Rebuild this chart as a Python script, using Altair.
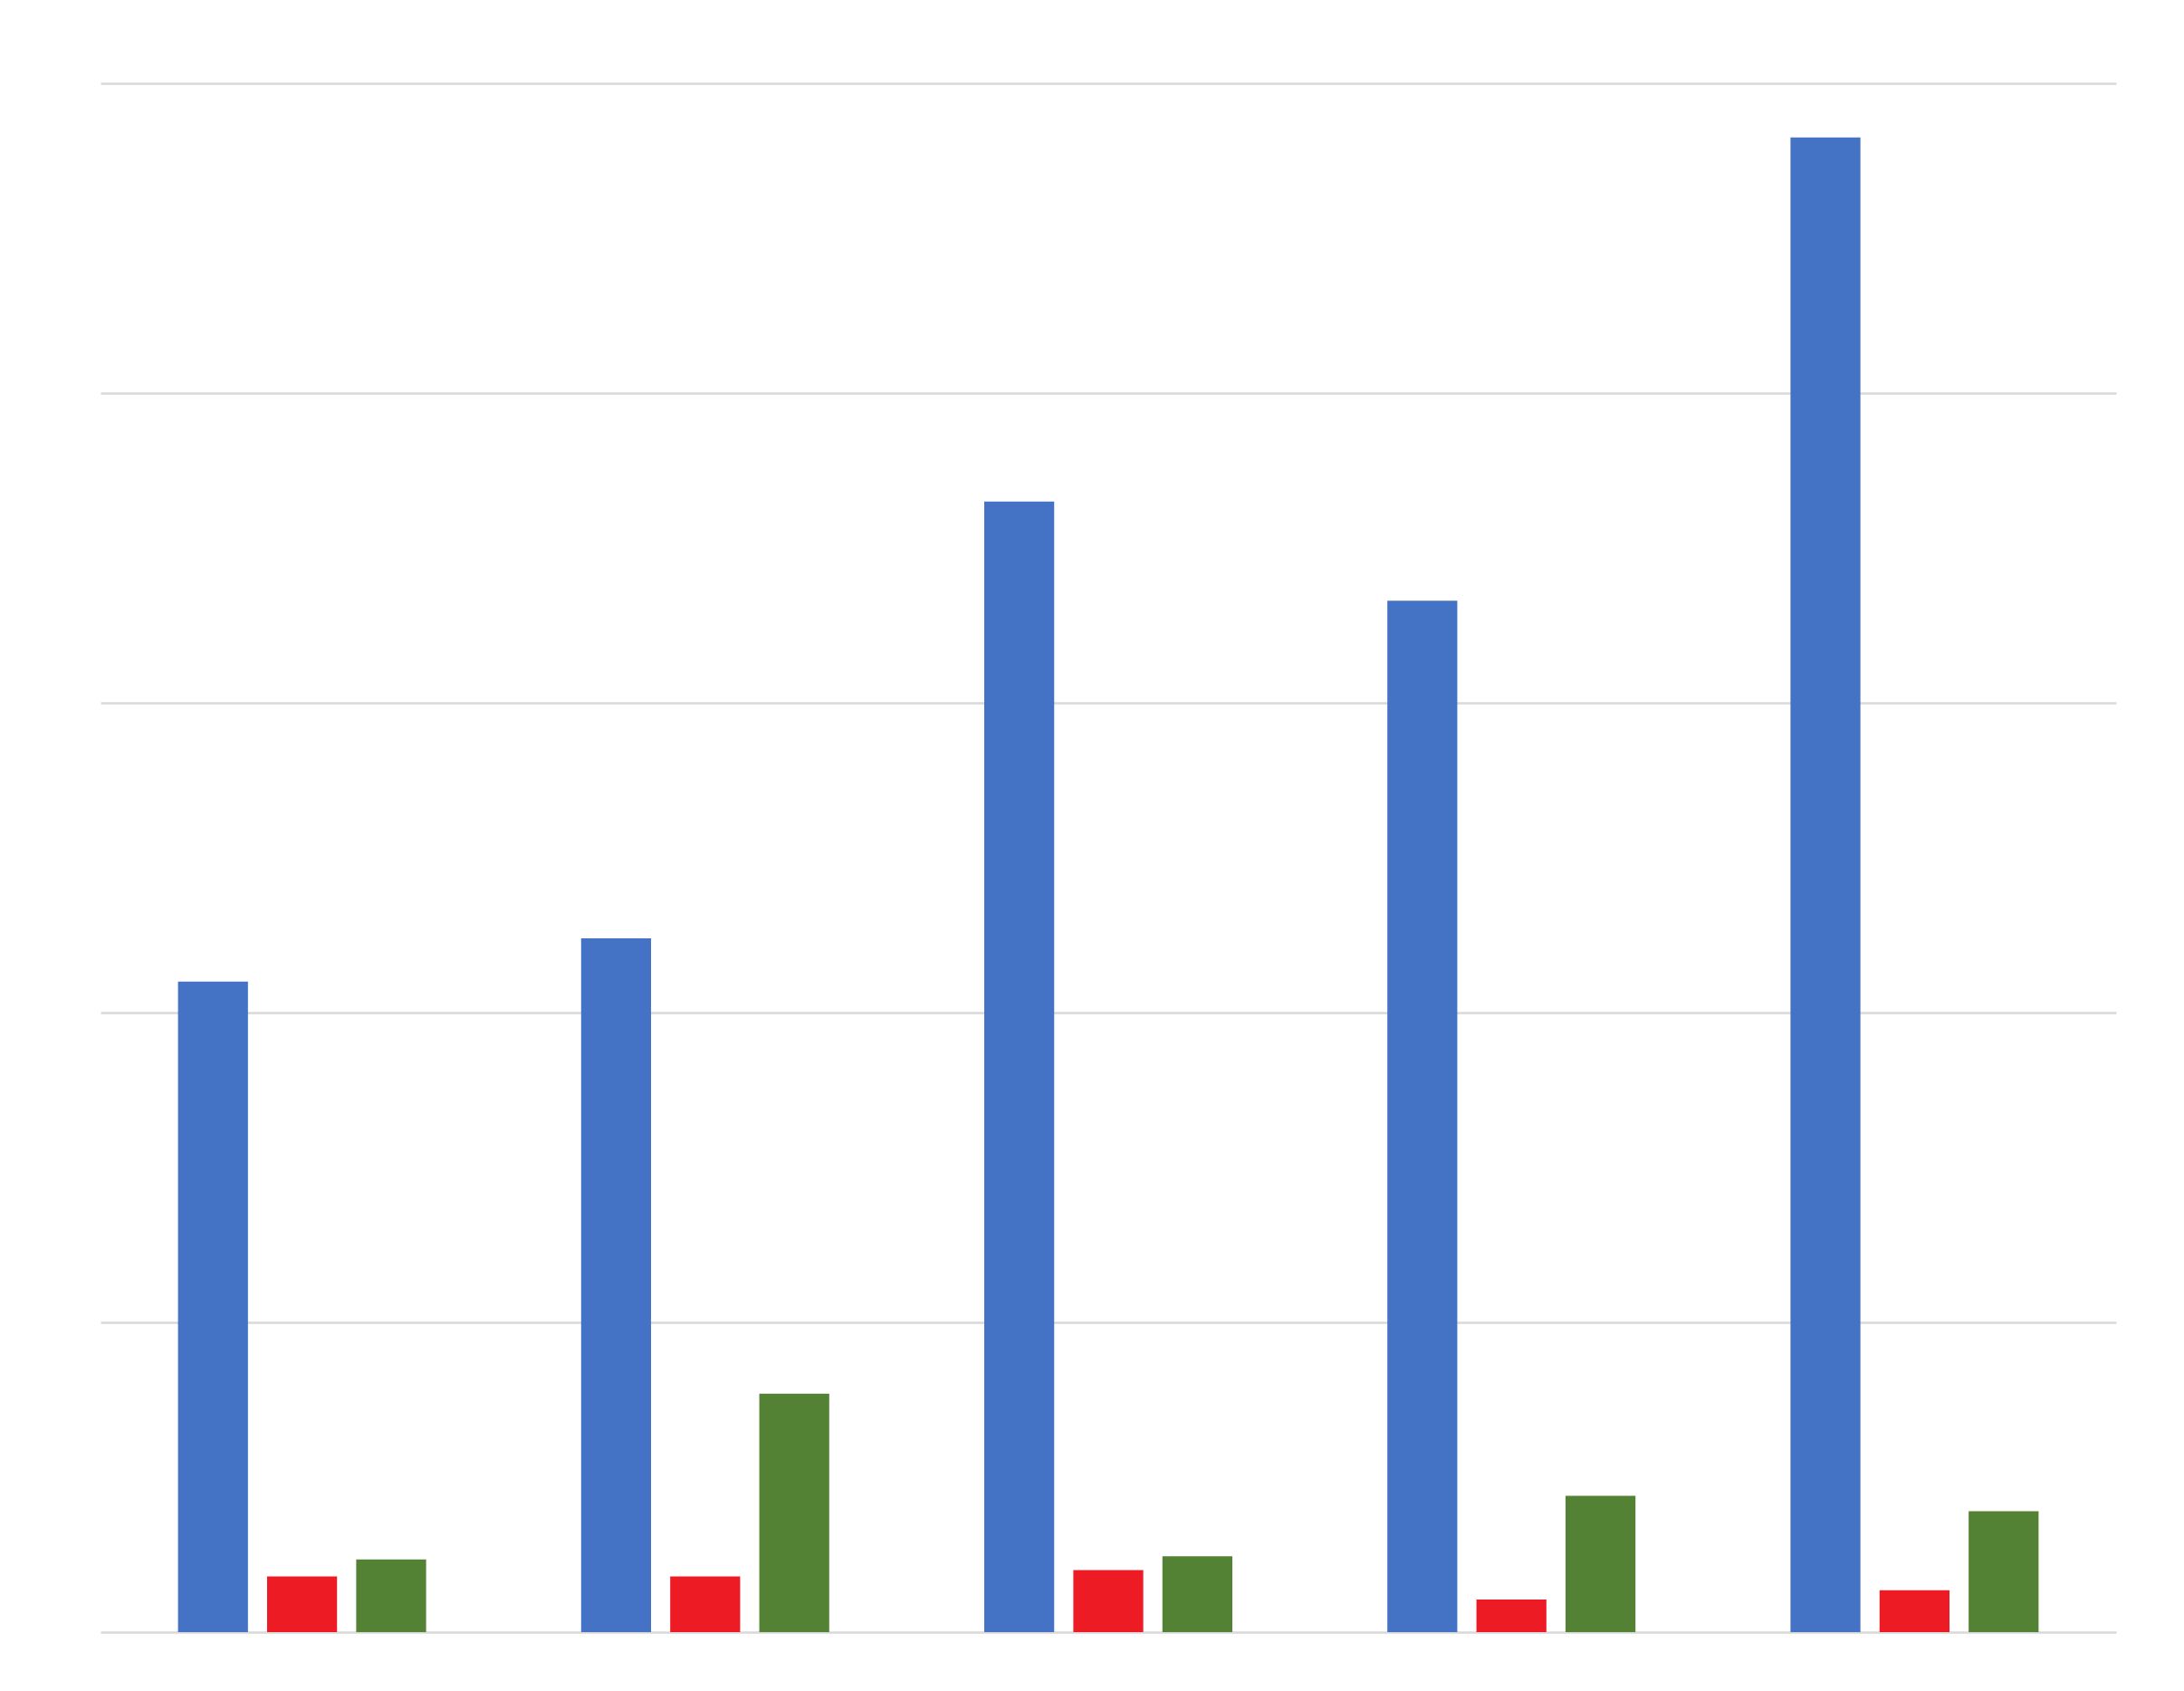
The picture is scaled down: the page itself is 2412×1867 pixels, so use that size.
import altair as alt
import pandas as pd

groups = ["G1", "G2", "G3", "G4", "G5"]
series = ["A", "B", "C"]
values_a = [2.10, 2.24, 3.65, 3.33, 4.825]
values_b = [0.18, 0.18, 0.20, 0.105, 0.135]
values_c = [0.235, 0.77, 0.245, 0.44, 0.39]
colors = ["#4472C4", "#ED1C24", "#548235"]

rows = []
for i, g in enumerate(groups):
    for s, vals in zip(series, [values_a, values_b, values_c]):
        rows.append({"group": g, "series": s, "value": vals[i]})
df = pd.DataFrame(rows)

chart = alt.Chart(df).mark_bar().encode(
    x=alt.X("group:N", sort=groups, axis=None,
            scale=alt.Scale(paddingInner=0, paddingOuter=0)),
    xOffset=alt.XOffset("series:N", sort=series,
                        scale=alt.Scale(paddingInner=0.215, paddingOuter=0.87)),
    y=alt.Y("value:Q",
            scale=alt.Scale(domain=[0, 5], nice=False, zero=True),
            axis=alt.Axis(values=[0, 1, 2, 3, 4, 5], grid=True, gridColor="#d9d9d9",
                          gridWidth=2.5, labels=False, ticks=False, domain=False,
                          title=None)),
    color=alt.Color("series:N", sort=series, legend=None,
                    scale=alt.Scale(domain=series, range=colors)),
).properties(
    width=2226,
    height=1710,
    background="white",
    autosize=alt.AutoSizeParams(type="none"),
    padding={"left": 103, "top": 84, "right": 60, "bottom": 60},
).configure_view(strokeWidth=0, stroke=None)

chart.save("out.html", embed_options={"renderer": "svg", "actions": False})
